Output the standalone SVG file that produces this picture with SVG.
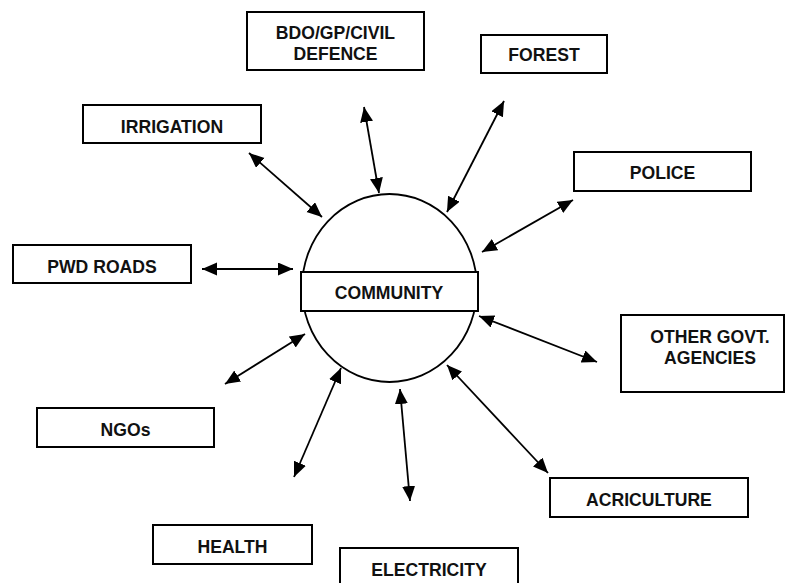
<svg xmlns="http://www.w3.org/2000/svg" width="786" height="583" viewBox="0 0 786 583">
<style>
.box{fill:#fff;stroke:#000;stroke-width:2}
.lbl{font-family:"Liberation Sans",Arial,sans-serif;font-weight:bold;font-size:17.6px;text-anchor:middle;fill:#111}
.conn{stroke:#000;stroke-width:1.8;fill:none;marker-start:url(#ah);marker-end:url(#ah)}
</style>
<defs>
<marker id="ah" markerUnits="userSpaceOnUse" markerWidth="16" markerHeight="14" refX="15" refY="6.5" orient="auto-start-reverse">
<path d="M0,0 L15,6.5 L0,13 z" fill="#000"/>
</marker>
</defs>
<rect width="786" height="583" fill="#fff"/>
<g id="connectors">
<line class="conn" x1="364" y1="107" x2="379" y2="193"/>
<line class="conn" x1="504" y1="101" x2="447" y2="212"/>
<line class="conn" x1="249" y1="153" x2="322" y2="217"/>
<line class="conn" x1="202" y1="269" x2="293" y2="269"/>
<line class="conn" x1="573" y1="200" x2="482" y2="252"/>
<line class="conn" x1="479" y1="316" x2="597" y2="362"/>
<line class="conn" x1="225" y1="384" x2="305" y2="334"/>
<line class="conn" x1="341" y1="368" x2="294" y2="477"/>
<line class="conn" x1="400" y1="389" x2="410" y2="501"/>
<line class="conn" x1="447" y1="365" x2="548" y2="473"/>
</g>
<g id="community">
<ellipse cx="389.5" cy="288" rx="87.5" ry="94" fill="#fff" stroke="#000" stroke-width="1.8"/>
<rect class="box" x="301" y="272" width="177" height="39"/>
<text class="lbl" x="389" y="299">COMMUNITY</text>
</g>
<g id="bdo">
<rect class="box" x="247" y="12" width="177" height="58"/>
<text class="lbl" x="335.5" y="39">BDO/GP/CIVIL</text>
<text class="lbl" x="335.5" y="60">DEFENCE</text>
</g>
<g id="forest">
<rect class="box" x="481" y="35" width="126" height="38"/>
<text class="lbl" x="544" y="61">FOREST</text>
</g>
<g id="irrigation">
<rect class="box" x="83" y="105" width="178" height="38"/>
<text class="lbl" x="172" y="133">IRRIGATION</text>
</g>
<g id="police">
<rect class="box" x="574" y="152" width="177" height="39"/>
<text class="lbl" x="662.5" y="179">POLICE</text>
</g>
<g id="pwd">
<rect class="box" x="13" y="245" width="178" height="38"/>
<text class="lbl" x="102" y="273">PWD ROADS</text>
</g>
<g id="othergovt">
<rect class="box" x="621" y="315" width="163" height="77"/>
<text class="lbl" x="710" y="343">OTHER GOVT.</text>
<text class="lbl" x="710" y="364">AGENCIES</text>
</g>
<g id="ngos">
<rect class="box" x="37" y="408" width="177" height="39"/>
<text class="lbl" x="125.5" y="436">NGOs</text>
</g>
<g id="agriculture">
<rect class="box" x="550" y="478" width="198" height="39"/>
<text class="lbl" x="649" y="506">ACRICULTURE</text>
</g>
<g id="health">
<rect class="box" x="153" y="525" width="159" height="39"/>
<text class="lbl" x="232.5" y="553">HEALTH</text>
</g>
<g id="electricity">
<rect class="box" x="340" y="548" width="178" height="45"/>
<text class="lbl" x="429" y="576">ELECTRICITY</text>
</g>
</svg>
